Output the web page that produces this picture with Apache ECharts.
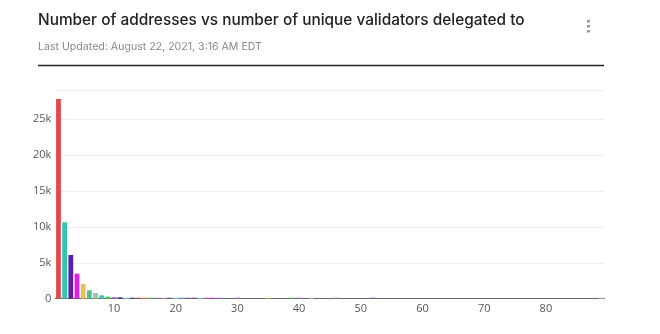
<!DOCTYPE html>
<html><head><meta charset="utf-8">
<script src="https://cdn.jsdelivr.net/npm/echarts@6/dist/echarts.min.js"></script>
<style>html,body{margin:0;padding:0;background:#fff}#c{width:660px;height:334px}</style>
</head><body><div id="c"></div>
<script>
const titleText = "Number of addresses vs number of unique validators delegated to";
const subtitleText = "Last Updated: August 22, 2021, 3:16 AM EDT";
// categories: number of unique validators delegated to (1..89)
const categories = [];
for (let i = 1; i <= 89; i++) categories.push(String(i));
// number of addresses per category
const counts = [27830,10650,6090,3490,2050,1170,790,470,280,230,
  200,60,50,40,35,30,25,20,20,15,
  15,12,10,10,8,6,5,0,0,3,
  0,0,0,0,2,0,0,0,2,2,
  0,2,0,0,0,1,0,0,0,0,
  0,1,0,0,0,0,0,0,0,0,
  0,0,0,0,0,0,0,0,0,0,
  0,0,0,0,0,0,0,0,0,0,
  0,0,0,0,0,0,0,0,1];
const xTickLabels = ["10","20","30","40","50","60","70","80"];
const yTicks = [0,5000,10000,15000,20000,25000];
const palette = ["#e5474f","#2ec4b0","#5b1fa8","#e31ee3","#e3c257","#52c08f","#93c9a1","#33cbb3","#35cc48","#b063c4",
  "#2c3f85","#8fd0c8","#2c3f85","#d9434b","#e0813a","#62a84a","#9b7ab0","#d69aa8","#6b4fb8","#8fd0c8",
  "#5aa9d6","#7b5cc8","#6d4aa0","#8fd0c8","#b05cd0","#c13cd8","#9c6ad0","#8fd0c8","#8fd0c8","#b05cd0"];

const chart = echarts.init(document.getElementById('c'), null, {renderer:'canvas'});
const data = counts.map((v,i)=>({value: v===0?'-':v, itemStyle:{color: palette[i % palette.length]}}));
chart.setOption({
  animation:false,
  textStyle:{fontFamily:'Inter'},
  title:[{text:titleText, left:33, top:8, textStyle:{fontFamily:'Inter', fontSize:15.4, fontWeight:500, color:'#222'}},
         {text:subtitleText, left:33, top:36, textStyle:{fontFamily:'Inter', fontSize:10.6, fontWeight:400, color:'#888'}}],
  graphic:[
    {type:'line', shape:{x1:38,y1:65.5,x2:604,y2:65.5}, style:{stroke:'#222', lineWidth:1.5}},
    {type:'rect', shape:{x:587,y:20,width:3,height:2.5}, style:{fill:'#999'}},
    {type:'rect', shape:{x:587,y:25,width:3,height:2.5}, style:{fill:'#999'}},
    {type:'rect', shape:{x:587,y:30,width:3,height:2.5}, style:{fill:'#999'}}
  ],
  grid:{left:55.4, right:55.5, top:90.6, bottom:35.3, containLabel:false},
  xAxis:{type:'category', data:categories, boundaryGap:true,
    axisLine:{lineStyle:{color:'#666', width:1}},
    axisTick:{show:false},
    axisLabel:{interval:(i,v)=>xTickLabels.includes(v), color:'#555', fontSize:11, fontFamily:'Open Sans', margin:5},
    splitLine:{show:false}},
  yAxis:{type:'value', min:0, max:29000, interval:5000,
    axisLine:{show:false}, axisTick:{show:false},
    axisLabel:{formatter:v=> yTicks.includes(v) ? (v===0?'0':(v/1000)+'k') : '', color:'#555', fontSize:11, fontFamily:'Open Sans', margin:4,
      showMaxLabel:false},
    splitLine:{lineStyle:{color:'#eee', width:1}}},
  series:[{type:'bar', data:data, barCategoryGap:'22%', barMinHeight:1}]
});
</script></body></html>
